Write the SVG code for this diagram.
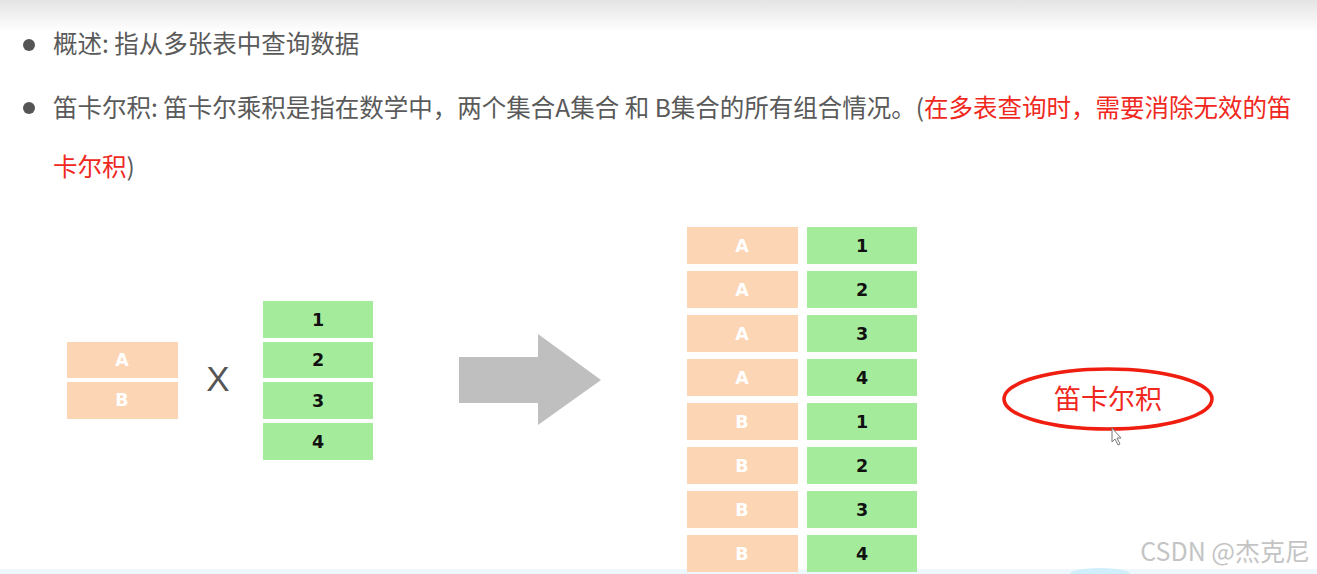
<svg xmlns="http://www.w3.org/2000/svg" width="1317" height="574" viewBox="0 0 1317 574">
<style>
.t{font-family:"Noto Sans CJK SC","Liberation Sans",sans-serif;font-size:24.5px;fill:#5a5a5a}
.r{fill:#f0281e}
.or{fill:#fcd5b4}
.gr{fill:#a4ec9c}
.ol{font-family:"DejaVu Sans","Liberation Sans",sans-serif;font-size:17.5px;font-weight:bold;fill:#ffffff;text-anchor:middle}
.gl{font-family:"DejaVu Sans","Liberation Sans",sans-serif;font-size:17.5px;font-weight:bold;fill:#111111;text-anchor:middle}
</style>
<defs>
<linearGradient id="topg" x1="0" y1="0" x2="0" y2="1">
<stop offset="0" stop-color="#e4e4e4"/>
<stop offset="1" stop-color="#ffffff"/>
</linearGradient>
</defs>
<rect width="1317" height="574" fill="#ffffff"/>
<rect width="1317" height="32" fill="url(#topg)"/>
<rect x="0" y="569" width="1317" height="5" fill="#eef7fb"/>
<ellipse cx="1100" cy="574" rx="30" ry="6" fill="#cfeefa"/>

<g id="text">
<circle cx="29" cy="45" r="6" fill="#555555"/>
<text class="t" x="53" y="53">概述: 指从多张表中查询数据</text>
<circle cx="29" cy="108" r="6" fill="#555555"/>
<text class="t" x="53" y="117">笛卡尔积: 笛卡尔乘积是指在数学中，两个集合A集合 和 B集合的所有组合情况。(<tspan class="r">在多表查询时，需要消除无效的笛</tspan></text>
<text class="t" x="53" y="176"><tspan class="r">卡尔积</tspan>)</text>
</g>

<g id="setA">
<rect class="or" x="67" y="342" width="111" height="36"/>
<text class="ol" x="122" y="366">A</text>
<rect class="or" x="67" y="382" width="111" height="37"/>
<text class="ol" x="122" y="406">B</text>
</g>

<g id="times">
<text x="218" y="391" font-family="'Liberation Sans',sans-serif" font-size="35" fill="#555555" text-anchor="middle">X</text>
</g>

<g id="setB">
<rect class="gr" x="263" y="301" width="110" height="37"/>
<text class="gl" x="318" y="326">1</text>
<rect class="gr" x="263" y="342" width="110" height="36"/>
<text class="gl" x="318" y="366">2</text>
<rect class="gr" x="263" y="382" width="110" height="37"/>
<text class="gl" x="318" y="407">3</text>
<rect class="gr" x="263" y="423" width="110" height="37"/>
<text class="gl" x="318" y="448">4</text>
</g>

<g id="connectors">
<polygon points="459,357 538,357 538,334 601,380 538,425 538,403 459,403" fill="#bfbfbf"/>
</g>

<g id="product">
<rect class="or" x="687" y="227" width="111" height="37"/><text class="ol" x="742" y="252">A</text>
<rect class="gr" x="807" y="227" width="110" height="37"/><text class="gl" x="862" y="252">1</text>
<rect class="or" x="687" y="271" width="111" height="37"/><text class="ol" x="742" y="296">A</text>
<rect class="gr" x="807" y="271" width="110" height="37"/><text class="gl" x="862" y="296">2</text>
<rect class="or" x="687" y="315" width="111" height="37"/><text class="ol" x="742" y="340">A</text>
<rect class="gr" x="807" y="315" width="110" height="37"/><text class="gl" x="862" y="340">3</text>
<rect class="or" x="687" y="359" width="111" height="37"/><text class="ol" x="742" y="384">A</text>
<rect class="gr" x="807" y="359" width="110" height="37"/><text class="gl" x="862" y="384">4</text>
<rect class="or" x="687" y="403" width="111" height="37"/><text class="ol" x="742" y="428">B</text>
<rect class="gr" x="807" y="403" width="110" height="37"/><text class="gl" x="862" y="428">1</text>
<rect class="or" x="687" y="447" width="111" height="37"/><text class="ol" x="742" y="472">B</text>
<rect class="gr" x="807" y="447" width="110" height="37"/><text class="gl" x="862" y="472">2</text>
<rect class="or" x="687" y="491" width="111" height="37"/><text class="ol" x="742" y="516">B</text>
<rect class="gr" x="807" y="491" width="110" height="37"/><text class="gl" x="862" y="516">3</text>
<rect class="or" x="687" y="535" width="111" height="37"/><text class="ol" x="742" y="560">B</text>
<rect class="gr" x="807" y="535" width="110" height="37"/><text class="gl" x="862" y="560">4</text>
</g>

<g id="label">
<ellipse cx="1108" cy="399" rx="104" ry="30" fill="#ffffff" stroke="#f01e10" stroke-width="3.5"/>
<text x="1108" y="409" font-family="'Noto Sans CJK SC',sans-serif" font-size="27" fill="#f0281e" text-anchor="middle">笛卡尔积</text>
<path d="M1112,428 L1112,442 L1115,439 L1118,445 L1120,444 L1117,438 L1121,438 Z" fill="#ffffff" stroke="#777777" stroke-width="1"/>
</g>

<g id="watermark">
<text x="1310" y="561" font-family="'Noto Sans CJK SC','Liberation Sans',sans-serif" font-size="25" fill="#c4c4c4" text-anchor="end">CSDN @杰克尼</text>
</g>
</svg>
